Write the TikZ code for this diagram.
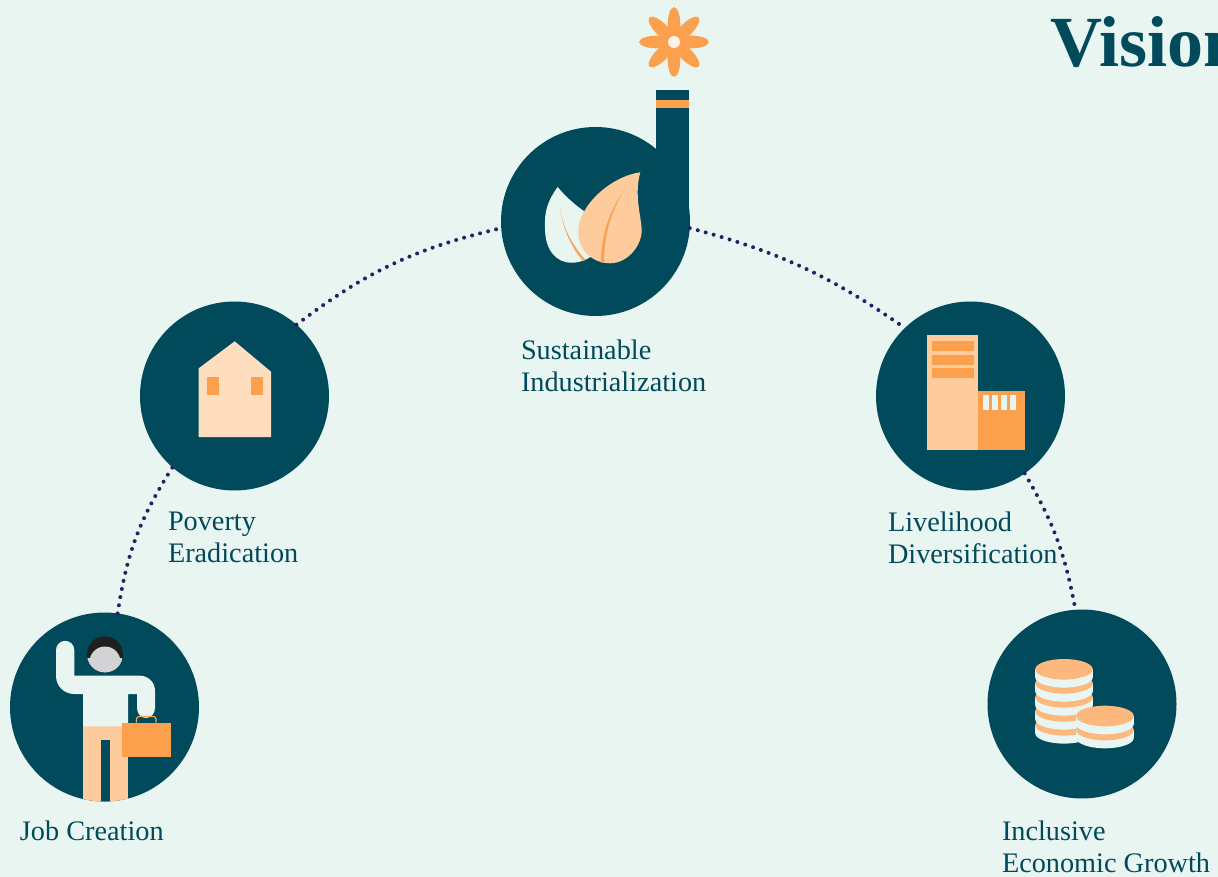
\documentclass[tikz,border=0pt]{standalone}
\usepackage{fontspec}
\setmainfont{Liberation Serif}
\definecolor{bgc}{HTML}{E8F5F0}
\definecolor{teal}{HTML}{014A5B}
\definecolor{orng}{HTML}{FBA04C}
\definecolor{peach}{HTML}{FDCB9C}
\definecolor{lpeach}{HTML}{FFDDBF}
\definecolor{coin}{HTML}{FDB97D}
\definecolor{dotc}{HTML}{2A1F66}
\definecolor{hairc}{HTML}{1F1F1F}
\definecolor{facec}{HTML}{D3D3D5}
\definecolor{creamc}{HTML}{FFF3E8}
\tikzset{
  hub/.style={circle,fill=teal,minimum size=141.75pt,inner sep=0pt,outer sep=0pt},
  dotline/.style={line width=3pt,dotc,line cap=round,dash pattern=on 0pt off 6.2pt},
  lab/.style={text=teal,anchor=north west,align=left,inner sep=0pt,outer sep=0pt,font=\fontsize{21.2pt}{24pt}\selectfont},
}
\begin{document}
\begin{tikzpicture}[x=0.75pt,y=-0.75pt]
\useasboundingbox (0,0) rectangle (1218,877);
\fill[bgc] (0,0) rectangle (1218,877);
\node[hub] (job) at (104.5,707) {};
\node[hub] (pov) at (234.5,396) {};
\node[hub] (sus) at (595.5,221.5) {};
\node[hub] (liv) at (970.5,396) {};
\node[hub] (inc) at (1082,704) {};
\draw[dotline] (job.82) to[bend left=12] (pov.229);
\draw[dotline] (pov.49) to[bend left=12] (sus.184);
\draw[dotline] (sus.356) to[bend left=10] (liv.134);
\draw[dotline] (liv.305) to[bend left=10] (inc.94);
% chimney and flower
\fill[teal] (656,90) rectangle (689,222);
\fill[orng] (656,100) rectangle (689,108);
\foreach \a in {0,45,...,315}
  \fill[orng,rotate around={\a:(674,42)}] (691.5,42) ellipse [x radius=17.3,y radius=6.3];
\fill[creamc] (674,42) circle [radius=6];
% leaves
\fill[bgc] (557.7,187) .. controls (548,200) and (544,212) .. (545,228) .. controls (545,250) and (556,263) .. (572,262.7) .. controls (580,262.7) and (586,260) .. (592,256) -- (590,215) -- (583.3,210.7) .. controls (574,204) and (565,196) .. (557.7,187) -- cycle;
\fill[orng] (560,208) .. controls (563,230) and (572,248) .. (583,261) -- (585.5,260) .. controls (572,245) and (563,228) .. (560,208) -- cycle;
\fill[peach] (640.3,172.3) .. controls (612,176) and (578,205) .. (578.3,232) .. controls (578,250) and (592,263) .. (610,263.3) .. controls (628,263.3) and (642,245) .. (641.7,230) .. controls (641,215) and (634,195) .. (640.3,172.3) -- cycle;
\fill[orng] (623,192) .. controls (610,210) and (601,235) .. (601,262.5) -- (604,263) .. controls (604,235) and (611,212) .. (623,192) -- cycle;
% house
\fill[lpeach] (198.7,368.3) -- (234.7,341.3) -- (271,371.7) -- (271,437) -- (198.7,437) -- cycle;
\fill[orng] (207,377) rectangle (219,395);
\fill[orng] (251,377) rectangle (263,395);
% buildings
\fill[peach] (927,335) rectangle (978,450);
\fill[orng] (978,391) rectangle (1025,450);
\fill[orng] (932,341) rectangle (974,351);
\fill[orng] (932,355) rectangle (974,365);
\fill[orng] (932,368) rectangle (974,378);
\foreach \x in {983,992,1001,1010}
  \fill[bgc] (\x,395) rectangle (\x+6,410);
% coins
\foreach \y in {725.3,711.3,697.3,683.3,669.3}{
  \fill[bgc] (1035.2,\y) rectangle (1092.8,\y+8);
  \fill[bgc] (1064,\y+8) ellipse [x radius=28.8,y radius=10.3];
  \fill[coin] (1064,\y) ellipse [x radius=28.8,y radius=10.3];
}
\foreach \y in {730,716}{
  \fill[bgc] (1076.2,\y) rectangle (1133.8,\y+8);
  \fill[bgc] (1105,\y+8) ellipse [x radius=28.8,y radius=10.3];
  \fill[coin] (1105,\y) ellipse [x radius=28.8,y radius=10.3];
}
% person
\begin{scope}
\clip (104.5,707) circle [radius=94.5];
\fill[peach] (83,726) rectangle (128,810);
\fill[teal] (101,740) rectangle (110,810);
\end{scope}
\fill[bgc] (56,650) arc [start angle=180,end angle=360,radius=9.15] -- (74.3,675.7) -- (140,675.7) arc [start angle=-90,end angle=0,radius=15] -- (155,708) arc [start angle=0,end angle=180,x radius=9,y radius=10] -- (137,694) -- (128,694) -- (128,726.3) -- (83,726.3) -- (83,694) -- (74,694) arc [start angle=90,end angle=180,radius=18] -- cycle;
\fill[orng] (122,722.7) rectangle (170.5,756.7);
\draw[orng,line width=0.9pt,rounded corners=2pt] (136.5,722.7) -- (136.5,716.5) -- (156,716.5) -- (156,722.7);
\begin{scope}
\clip (105,654.3) circle [radius=18];
\fill[hairc] (87,636) rectangle (123,673);
\fill[facec] (87,658) rectangle (123,673);
\fill[facec] (105,662) ellipse [x radius=15.5,y radius=15.5];
\end{scope}
% labels
\node[lab] (l1) at (20,821) {Job Creation};
\node[lab] (l2) at (168,512) {Poverty\\Eradication};
\node[lab] (l3) at (521,340) {Sustainable\\Industrialization};
\node[lab] (l4) at (888,512) {Livelihood\\Diversification};
\node[lab] (l5) at (1002,821) {Inclusive\\Economic Growth};
\begin{scope}
\clip (0,0) rectangle (1218,877);
\node[text=teal,anchor=base west,inner sep=0pt,font=\bfseries\fontsize{54pt}{60pt}\selectfont] (title) at (1050,67) {Vision};
\end{scope}
\end{tikzpicture}
\end{document}
